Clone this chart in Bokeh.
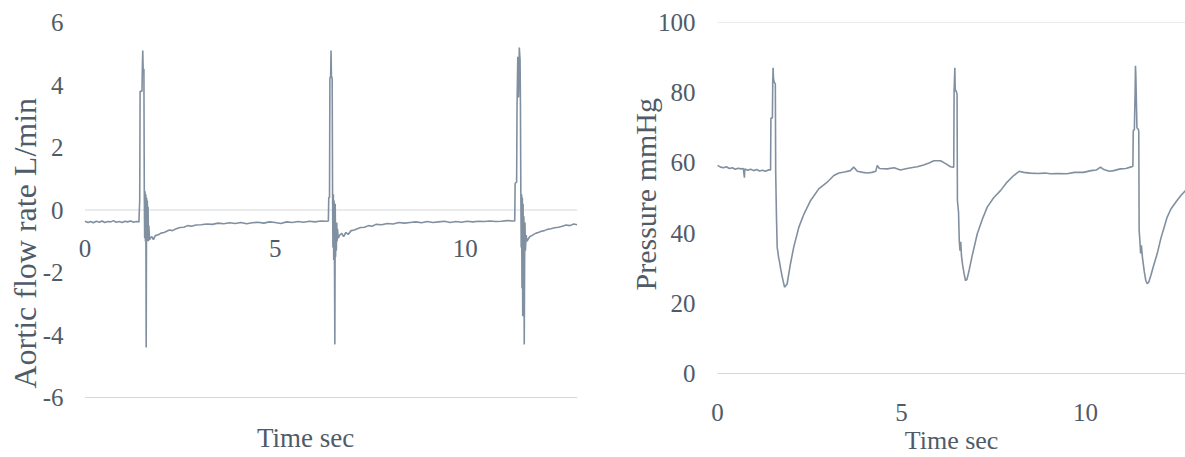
from bokeh.plotting import figure
from bokeh.layouts import row
from bokeh.models import (FixedTicker, Range1d, LabelSet, Label, ColumnDataSource, Title)
from bokeh.embed import file_html
from bokeh.resources import INLINE

FONT = "Liberation Serif"
TXT = "#505b68"
LINE = "#8190a0"
GRID = "#d6d8db"

# ---------------- data ----------------
time_ticks = [0, 5, 10]
time_labels = ["0", "5", "10"]
flow_yticks = [-6, -4, -2, 0, 2, 4, 6]
flow_ylabels = ["-6", "-4", "-2", "0", "2", "4", "6"]
pres_yticks = [0, 20, 40, 60, 80, 100]
flow_grid = [0, -6]
pres_grid = [100, 0]

flow_t = [
    0.00, 0.08, 0.15, 0.22, 0.30, 0.38, 0.45, 0.52, 0.60, 0.68, 0.75, 0.82, 0.90, 0.98, 1.05, 1.12, 1.20, 1.28, 1.35, 1.42,
    1.43, 1.44, 1.45, 1.50, 1.51, 1.52, 1.53, 1.55, 1.56, 1.57, 1.58, 1.59, 1.60, 1.61, 1.62, 1.63, 1.64, 1.65, 1.66, 1.67, 1.68, 1.70,
    1.72, 1.76, 1.80, 1.85, 1.90, 1.95, 2.00, 2.08, 2.15, 2.22, 2.30, 2.40, 2.50, 2.60, 2.70, 2.80, 2.92, 3.05, 3.20, 3.35,
    3.50, 3.65, 3.80, 3.95, 4.10, 4.25, 4.40, 4.55, 4.70, 4.85, 5.00, 5.15, 5.30, 5.45, 5.60, 5.75, 5.90, 6.05, 6.20, 6.35,
    6.40, 6.41, 6.43, 6.44, 6.46, 6.47, 6.48, 6.50, 6.51, 6.52, 6.53, 6.54, 6.55, 6.56, 6.57, 6.58, 6.59, 6.60, 6.61, 6.62, 6.63, 6.64, 6.66,
    6.70, 6.75, 6.80, 6.86, 6.92, 7.00, 7.08, 7.16, 7.25, 7.35, 7.45, 7.55, 7.65, 7.80, 7.95, 8.10, 8.25, 8.40, 8.55,
    8.70, 8.85, 9.00, 9.15, 9.30, 9.45, 9.60, 9.75, 9.90, 10.05, 10.20, 10.35, 10.50, 10.65, 10.80, 10.95, 11.10, 11.25,
    11.30, 11.31, 11.35, 11.36, 11.38, 11.40, 11.42, 11.44, 11.45, 11.46, 11.47, 11.48, 11.49, 11.50, 11.51, 11.52, 11.53,
    11.54, 11.55, 11.56, 11.57, 11.58, 11.60,
    11.62, 11.66, 11.70, 11.75, 11.80, 11.86, 11.92, 12.00, 12.08, 12.16, 12.25, 12.35, 12.45, 12.55, 12.65, 12.75, 12.85, 12.94,
]
flow_v = [
    -0.36, -0.40, -0.37, -0.41, -0.36, -0.39, -0.35, -0.40, -0.37, -0.38, -0.34, -0.39, -0.37, -0.40, -0.36, -0.38, -0.35, -0.39, -0.37, -0.38,
    0.0, 0.3, 3.8, 3.8, 4.6, 5.1, 4.5, 4.5, 0.6, -0.9, 0.6, -1.0, 0.5, -4.4, 0.4, -1.0, 0.3, -0.9, 0.1, -1.0, -0.5, -0.95,
    -0.90, -0.85, -0.95, -0.82, -0.80, -0.78, -0.74, -0.72, -0.68, -0.64, -0.66, -0.60, -0.56, -0.55, -0.50, -0.52, -0.48, -0.47, -0.45, -0.46,
    -0.42, -0.44, -0.41, -0.43, -0.40, -0.44, -0.41, -0.39, -0.42, -0.38, -0.40, -0.43, -0.38, -0.40, -0.37, -0.39, -0.36, -0.38, -0.35, -0.36,
    -0.35, 0.4, 0.4, 4.2, 4.3, 5.1, 4.3, 4.2, 0.6, -1.2, 0.5, -1.6, 0.3, -1.4, -4.3, 0.2, -1.5, -0.5, -1.3, -0.4, -1.0, -0.6, -0.9,
    -0.80, -0.75, -0.85, -0.72, -0.78, -0.66, -0.64, -0.60, -0.56, -0.55, -0.50, -0.52, -0.46, -0.47, -0.43, -0.45, -0.40, -0.42, -0.40,
    -0.38, -0.41, -0.37, -0.40, -0.38, -0.36, -0.40, -0.37, -0.39, -0.36, -0.38, -0.36, -0.37, -0.35, -0.37, -0.36, -0.34, -0.35,
    -0.35, 0.85, 0.9, 3.3, 4.9, 3.6, 5.2, 4.8, 3.4, 0.6, -1.2, 0.5, -2.5, 0.4, -3.4, 0.2, -3.0,
    -0.2, -4.3, -1.6, -0.4, -1.3, -0.8,
    -1.00, -0.92, -0.85, -0.82, -0.78, -0.74, -0.72, -0.68, -0.66, -0.62, -0.60, -0.57, -0.55, -0.52, -0.48, -0.50, -0.45, -0.47,
]

pres_t = [
    0.00, 0.08, 0.16, 0.24, 0.32, 0.40, 0.48, 0.56, 0.64, 0.70, 0.73, 0.74, 0.76, 0.82, 0.90, 0.98, 1.06, 1.14, 1.22, 1.30, 1.38, 1.43,
    1.44, 1.45, 1.49, 1.50, 1.51, 1.52, 1.54, 1.57, 1.58, 1.60, 1.62, 1.64, 1.66, 1.68, 1.72, 1.76, 1.82, 1.89,
    1.98, 2.07, 2.21, 2.35, 2.53, 2.75, 2.98, 3.16, 3.30,
    3.45, 3.61, 3.70, 3.80, 3.95, 4.07, 4.20, 4.30, 4.34, 4.40, 4.61, 4.80, 4.97, 5.15, 5.30, 5.43, 5.60, 5.75, 5.88, 6.06, 6.20, 6.33, 6.40,
    6.42, 6.43, 6.45, 6.46, 6.48, 6.50, 6.51, 6.52, 6.55, 6.57, 6.59, 6.61, 6.63, 6.66, 6.70, 6.74, 6.78, 6.84, 6.92, 7.06,
    7.20, 7.33, 7.50, 7.69, 7.85, 8.05, 8.20, 8.32,
    8.50, 8.70, 8.90, 9.05, 9.25, 9.50, 9.70, 9.95, 10.15, 10.30, 10.41, 10.50, 10.65, 10.77, 10.95, 11.10, 11.22, 11.28,
    11.29, 11.30, 11.33, 11.35, 11.36, 11.37, 11.40, 11.44, 11.45, 11.46, 11.48, 11.50, 11.52, 11.55, 11.60, 11.64, 11.68,
    11.72, 11.78, 11.86, 11.95, 12.05, 12.15, 12.22, 12.32, 12.40, 12.49, 12.60, 12.72,
]
pres_v = [
    59.3, 58.8, 58.6, 58.9, 58.4, 58.6, 58.2, 58.5, 58.3, 58.4, 55.8, 58.3, 58.2, 57.9, 58.2, 57.8, 58.1, 57.7, 57.9, 57.6, 58.0, 58.0,
    58.0, 72.8, 72.8, 83.5, 87.1, 84.0, 83.0, 82.5, 57.3, 45.0, 36.0, 34.5, 33.0, 32.0, 29.5, 27.4, 24.6, 25.5,
    31.2, 36.0, 41.7, 45.5, 49.3, 52.6, 54.5, 56.4, 57.1,
    57.4, 57.8, 58.8, 57.6, 57.3, 57.1, 57.3, 57.6, 59.3, 58.4, 58.3, 58.6, 58.0, 58.4, 58.7, 58.9, 59.4, 60.0, 60.6, 60.6, 59.8, 58.9, 58.8,
    58.8, 80.6, 87.1, 80.5, 80.6, 80.0, 79.5, 49.3, 46.0, 37.9, 35.0, 37.5, 33.5, 31.0, 28.5, 26.5, 26.8, 29.5, 33.5, 39.8,
    44.0, 47.4, 50.0, 52.1, 54.3, 56.4, 57.6, 57.3,
    57.1, 57.0, 57.1, 56.9, 57.0, 56.9, 57.3, 57.3, 57.8, 58.0, 58.8, 58.1, 57.6, 57.8, 58.3, 58.4, 58.8, 59.0,
    59.0, 69.2, 69.5, 80.0, 87.7, 85.0, 70.0, 69.5, 69.0, 40.7, 37.9, 34.2, 36.5, 33.0, 29.0, 26.5, 25.6,
    26.0, 28.0, 31.0, 34.1, 38.5, 42.0, 44.5, 46.8, 48.0, 49.3, 50.8, 52.1,
]

T_START, T_END_FLOW, T_END_PRES = 0, 12.95, 12.72


def make_title(text, size, **kw):
    return Title(text=text, text_font=FONT, text_font_size=size, text_font_style="normal",
                 text_color=TXT, **kw)


def style_yaxis(ax, standoff):
    ax.axis_line_color = None
    ax.major_tick_line_color = None
    ax.major_tick_out = 0
    ax.major_tick_in = 0
    ax.minor_tick_line_color = None
    ax.major_label_text_font = FONT
    ax.major_label_text_font_size = "25px"
    ax.major_label_text_color = TXT
    ax.major_label_standoff = standoff


def gridlines(fig, levels, t_end):
    fig.segment(x0=[T_START] * len(levels), x1=[t_end] * len(levels),
                y0=levels, y1=levels, line_color=GRID, line_width=1)


def time_tick_labels(fig, y0, offset):
    src = ColumnDataSource(dict(x=time_ticks, y=[y0] * len(time_ticks), t=time_labels))
    fig.add_layout(LabelSet(x="x", y="y", text="t", source=src, text_align="center",
                            text_baseline="middle", y_offset=offset,
                            text_font=FONT, text_font_size="25px", text_color=TXT))


# The plotting areas reach the bottom edge (and a little left of t = 0), so the
# time axes' labels and titles are drawn inside them (the flow time axis
# crosses at flow = 0).

# ---------------- left: aortic flow ----------------
left = figure(width=600, height=457, x_range=Range1d(-0.38, T_END_FLOW), y_range=Range1d(-7.92, 6),
              output_backend="svg", toolbar_location=None, x_axis_location=None,
              min_border_left=70, min_border_right=23, min_border_top=22, min_border_bottom=0,
              outline_line_color=None, background_fill_color="white", border_fill_color="white")
left.xgrid.visible = False
left.ygrid.visible = False
gridlines(left, flow_grid, T_END_FLOW)

ly = left.yaxis[0]
ly.ticker = FixedTicker(ticks=flow_yticks)
ly.major_label_overrides = dict(zip(flow_yticks, flow_ylabels))
style_yaxis(ly, 7)
left.add_layout(make_title("Aortic flow rate L/min", "32px", align="left", offset=69,
                           vertical_align="middle", standoff=-9), "left")

time_tick_labels(left, 0, -38)
left.add_layout(Label(x=5.8, y=-6, y_offset=-40, text="Time sec", text_align="center",
                      text_baseline="middle", text_font=FONT, text_font_size="27px", text_color=TXT))

left.line(flow_t, flow_v, line_color=LINE, line_width=1.6)

# ---------------- right: pressure ----------------
right = figure(width=585, height=457, x_range=Range1d(-0.41, T_END_PRES), y_range=Range1d(-23.93, 100),
               output_backend="svg", toolbar_location=None, x_axis_location=None,
               min_border_left=102, min_border_right=0, min_border_top=22, min_border_bottom=0,
               outline_line_color=None, background_fill_color="white", border_fill_color="white")
right.xgrid.visible = False
right.ygrid.visible = False
gridlines(right, pres_grid, T_END_PRES)

ry = right.yaxis[0]
ry.ticker = FixedTicker(ticks=pres_yticks)
style_yaxis(ry, 7)
right.add_layout(make_title("Pressure mmHg", "30px", align="left", offset=167,
                            vertical_align="middle", standoff=-16), "left")

time_tick_labels(right, 0, -39)
right.add_layout(Label(x=(T_START + T_END_PRES) / 2, y=0, y_offset=-67, text="Time sec",
                       text_align="center", text_baseline="middle",
                       text_font=FONT, text_font_size="26px", text_color=TXT))

right.line(pres_t, pres_v, line_color=LINE, line_width=1.6)

layout = row(left, right, spacing=0)
open("out.html", "w").write(file_html(layout, INLINE))
